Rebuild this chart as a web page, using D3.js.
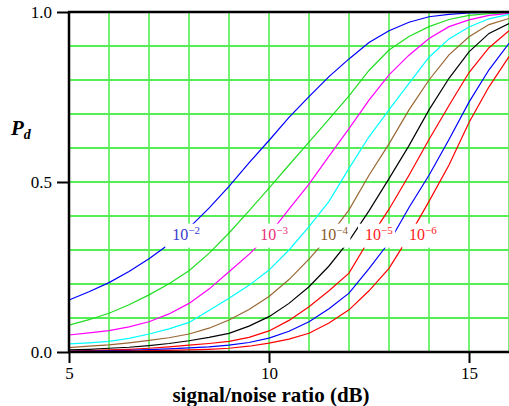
<!DOCTYPE html>
<html>
<head>
<meta charset="utf-8">
<script src="https://cdn.jsdelivr.net/npm/d3@7"></script>
<style>
  body { margin: 0; background: #fff; }
  text { font-family: "Liberation Serif", "Times New Roman", serif; }
</style>
</head>
<body>
<div id="chart"></div>
<script>
// signal/noise ratio (dB), sampled every 0.5 dB
var snr = [5, 5.5, 6, 6.5, 7, 7.5, 8, 8.5, 9, 9.5, 10, 10.5, 11, 11.5, 12, 12.5, 13, 13.5, 14, 14.5, 15, 15.5, 16];

// probability of detection for each false alarm rate
var pdFa2   = [0.153, 0.177, 0.204, 0.237, 0.274, 0.317, 0.365, 0.423, 0.487, 0.556, 0.622, 0.690, 0.751, 0.810, 0.862, 0.910, 0.945, 0.970, 0.986, 0.993, 0.997, 0.999, 1.000];
var pdFa25  = [0.079, 0.095, 0.114, 0.139, 0.168, 0.201, 0.239, 0.290, 0.350, 0.415, 0.482, 0.550, 0.617, 0.685, 0.753, 0.828, 0.888, 0.928, 0.957, 0.978, 0.990, 0.995, 0.998];
var pdFa3   = [0.050, 0.056, 0.063, 0.074, 0.089, 0.112, 0.143, 0.185, 0.236, 0.287, 0.345, 0.420, 0.494, 0.576, 0.657, 0.741, 0.815, 0.873, 0.922, 0.957, 0.977, 0.990, 0.996];
var pdFa35  = [0.024, 0.027, 0.031, 0.040, 0.053, 0.068, 0.087, 0.122, 0.158, 0.196, 0.241, 0.300, 0.369, 0.443, 0.540, 0.633, 0.712, 0.790, 0.867, 0.921, 0.956, 0.980, 0.993];
var pdFa4   = [0.013, 0.017, 0.021, 0.027, 0.034, 0.042, 0.053, 0.070, 0.094, 0.125, 0.163, 0.213, 0.273, 0.340, 0.418, 0.520, 0.612, 0.712, 0.800, 0.874, 0.927, 0.963, 0.981];
var pdFa45  = [0.006, 0.008, 0.011, 0.014, 0.019, 0.025, 0.033, 0.043, 0.055, 0.076, 0.104, 0.143, 0.192, 0.253, 0.327, 0.415, 0.510, 0.607, 0.712, 0.805, 0.883, 0.937, 0.966];
var pdFa5   = [0.003, 0.004, 0.006, 0.008, 0.011, 0.015, 0.020, 0.025, 0.031, 0.043, 0.062, 0.093, 0.133, 0.180, 0.232, 0.330, 0.420, 0.520, 0.625, 0.725, 0.822, 0.895, 0.945];
var pdFa55  = [0.002, 0.003, 0.004, 0.005, 0.007, 0.009, 0.012, 0.015, 0.020, 0.028, 0.041, 0.061, 0.089, 0.127, 0.173, 0.245, 0.322, 0.425, 0.520, 0.625, 0.735, 0.830, 0.908];
var pdFa6   = [0.001, 0.002, 0.002, 0.003, 0.004, 0.005, 0.006, 0.008, 0.011, 0.017, 0.026, 0.038, 0.055, 0.085, 0.124, 0.180, 0.246, 0.340, 0.443, 0.550, 0.675, 0.780, 0.869];

var curves = [
  { values: pdFa2,  color: "#0000ff" },
  { values: pdFa25, color: "#22dd22" },
  { values: pdFa3,  color: "#ff00ff" },
  { values: pdFa35, color: "#00ffff" },
  { values: pdFa4,  color: "#996633" },
  { values: pdFa45, color: "#000000" },
  { values: pdFa5,  color: "#ff0000" },
  { values: pdFa55, color: "#0000ff" },
  { values: pdFa6,  color: "#ff0000" }
];

// curve labels: exponent, position (dB of text start) and colour
var labelExp = ["2", "3", "4", "5", "6"];
var labelDb  = [7.58, 9.78, 11.28, 12.4, 13.5];
var labelPd  = 0.345;
var labelColor = ["#3a3ad0", "#e8307a", "#8a5a2a", "#ff2020", "#ff2020"];

var xTicks = [5, 10, 15];
var yTicks = [0, 0.5, 1];

var svgWidth = 509;
var svgHeight = 406;
var margin = { top: 12, right: 0, bottom: 54, left: 69 };
var width = svgWidth - margin.left - margin.right;
var height = svgHeight - margin.top - margin.bottom;

var svg = d3.select("#chart")
  .append("svg")
  .attr("width", svgWidth)
  .attr("height", svgHeight);

var chartGroup = svg.append("g")
  .attr("transform", `translate(${margin.left}, ${margin.top})`);

var xScale = d3.scaleLinear().domain([5, 16]).range([0, width]);
var yScale = d3.scaleLinear().domain([0, 1]).range([height, 0]);

// grid
chartGroup.append("g")
  .selectAll("line")
  .data(d3.range(6, 17))
  .enter()
  .append("line")
  .attr("x1", d => xScale(d))
  .attr("x2", d => xScale(d))
  .attr("y1", 0)
  .attr("y2", height)
  .attr("stroke", "#44ee44")
  .attr("stroke-width", 1.5);

chartGroup.append("g")
  .selectAll("line")
  .data(d3.range(1, 10).map(d => d / 10))
  .enter()
  .append("line")
  .attr("x1", 0)
  .attr("x2", width)
  .attr("y1", d => yScale(d))
  .attr("y2", d => yScale(d))
  .attr("stroke", "#55ee55")
  .attr("stroke-width", 1.8);

// curves
var line = d3.line()
  .x((d, i) => xScale(snr[i]))
  .y(d => yScale(d));

chartGroup.append("g")
  .selectAll("path")
  .data(curves)
  .enter()
  .append("path")
  .attr("d", d => line(d.values))
  .attr("fill", "none")
  .attr("stroke", d => d.color)
  .attr("stroke-width", 1.2);

// labels with white boxes cutting the curves
var labelGroup = chartGroup.append("g");
labelExp.forEach(function(e, i) {
  var g = labelGroup.append("g");
  var box = g.append("rect").attr("fill", "#fff");
  var t = g.append("text")
    .attr("x", xScale(labelDb[i]))
    .attr("y", yScale(labelPd) + 5)
    .attr("fill", labelColor[i])
    .attr("font-size", "16px");
  t.append("tspan").text("10");
  t.append("tspan").attr("dy", -6).attr("font-size", "11px").text("\u2212" + e);
  var bb = t.node().getBBox();
  box.attr("x", bb.x - 7)
    .attr("y", yScale(labelPd) - 11)
    .attr("width", bb.width + 9)
    .attr("height", 24);
});

// axes
var xAxis = d3.axisBottom(xScale).tickValues(xTicks).tickSize(11).tickPadding(4);
var yAxis = d3.axisLeft(yScale).tickValues(yTicks).tickFormat(d3.format(".1f")).tickSize(12).tickPadding(5);

var xg = chartGroup.append("g")
  .attr("transform", `translate(0, ${height})`)
  .call(xAxis);
var yg = chartGroup.append("g").call(yAxis);

[xg, yg].forEach(function(g) {
  g.select(".domain").remove();
  g.selectAll("line").attr("stroke", "#000").attr("stroke-width", 2);
  g.selectAll("text")
    .attr("fill", "#000")
    .style("font-family", "'Liberation Serif', 'Times New Roman', serif")
    .style("font-size", "17px");
});

// frame lines
chartGroup.append("line")
  .attr("x1", 0).attr("x2", 0).attr("y1", -1).attr("y2", height + 1)
  .attr("stroke", "#000").attr("stroke-width", 2.5);
chartGroup.append("line")
  .attr("x1", -1).attr("x2", width).attr("y1", height).attr("y2", height)
  .attr("stroke", "#000").attr("stroke-width", 2.5);
chartGroup.append("line")
  .attr("x1", -1).attr("x2", width).attr("y1", 0).attr("y2", 0)
  .attr("stroke", "#000").attr("stroke-width", 2.5);

// axis titles
svg.append("text")
  .attr("x", margin.left + xScale(10.05))
  .attr("y", 402)
  .attr("text-anchor", "middle")
  .attr("font-size", "21px")
  .attr("font-weight", "bold")
  .text("signal/noise ratio (dB)");

var pd = svg.append("text")
  .attr("x", 11)
  .attr("y", 135)
  .attr("font-size", "21px")
  .attr("font-weight", "bold")
  .attr("font-style", "italic");
pd.append("tspan").text("P");
pd.append("tspan").attr("dy", 4).attr("font-size", "14px").text("d");
</script>
</body>
</html>
